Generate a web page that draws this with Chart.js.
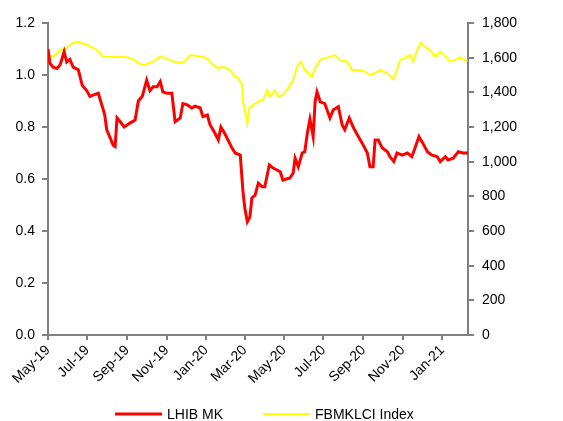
<!DOCTYPE html>
<html>
<head>
<meta charset="utf-8">
<script src="https://cdn.jsdelivr.net/npm/chart.js@4.4.0/dist/chart.umd.min.js"></script>
<style>
  html, body { margin: 0; padding: 0; background: #fff; }
  #wrap { width: 563px; height: 421px; }
</style>
</head>
<body>
<div id="wrap"><canvas id="myChart" width="563" height="421"></canvas></div>
<script>
// days counted from 1 May 2019
const monthDays = [0, 61, 123, 184, 245, 305, 366, 427, 489, 550, 611];
const monthLabels = ['May-19', 'Jul-19', 'Sep-19', 'Nov-19', 'Jan-20', 'Mar-20', 'May-20', 'Jul-20', 'Sep-20', 'Nov-20', 'Jan-21'];

// LHIB MK share price (RM)
const lhibDays = [0, 3, 8, 14, 19, 25, 29, 34, 39, 47, 53, 60, 65, 70, 78, 84, 88, 91, 96, 101, 104, 107, 112, 118, 127, 135, 140, 146, 153, 158, 163, 169, 174, 178, 184, 192, 197, 205, 209, 216, 223, 228, 236, 240, 247, 251, 259, 264, 268, 274, 279, 285, 290, 298, 302, 305, 309, 313, 316, 321, 326, 332, 336, 343, 349, 360, 364, 375, 380, 383, 388, 394, 398, 402, 406, 411, 414, 417, 422, 429, 437, 442, 450, 456, 460, 467, 473, 481, 487, 495, 499, 504, 507, 512, 518, 526, 530, 536, 541, 549, 557, 564, 569, 575, 581, 588, 595, 603, 608, 616, 620, 628, 636, 643, 651];
const lhibPrice = [1.10, 1.045, 1.03, 1.025, 1.04, 1.09, 1.05, 1.06, 1.03, 1.02, 0.96, 0.94, 0.917, 0.923, 0.93, 0.88, 0.846, 0.79, 0.76, 0.73, 0.725, 0.835, 0.82, 0.80, 0.815, 0.827, 0.90, 0.917, 0.98, 0.94, 0.955, 0.955, 0.975, 0.935, 0.93, 0.93, 0.82, 0.835, 0.89, 0.885, 0.873, 0.88, 0.873, 0.84, 0.846, 0.81, 0.775, 0.75, 0.80, 0.775, 0.75, 0.72, 0.70, 0.692, 0.558, 0.488, 0.436, 0.455, 0.527, 0.538, 0.584, 0.57, 0.57, 0.654, 0.642, 0.628, 0.596, 0.604, 0.623, 0.68, 0.647, 0.70, 0.705, 0.777, 0.83, 0.763, 0.897, 0.935, 0.897, 0.89, 0.835, 0.865, 0.878, 0.808, 0.79, 0.835, 0.80, 0.763, 0.738, 0.70, 0.647, 0.647, 0.75, 0.75, 0.72, 0.705, 0.686, 0.667, 0.70, 0.692, 0.70, 0.686, 0.72, 0.763, 0.738, 0.705, 0.692, 0.686, 0.667, 0.686, 0.673, 0.68, 0.705, 0.70, 0.70];

// FBMKLCI index level
const klciDays = [0, 8, 14, 19, 26, 31, 39, 47, 57, 65, 76, 85, 96, 107, 122, 132, 143, 150, 163, 174, 184, 194, 205, 212, 220, 231, 239, 248, 256, 264, 271, 282, 290, 295, 301, 302, 309, 312, 318, 326, 333, 340, 344, 352, 357, 364, 372, 380, 386, 392, 398, 409, 414, 422, 429, 437, 445, 453, 464, 471, 481, 488, 499, 507, 515, 526, 535, 541, 546, 553, 561, 566, 572, 578, 584, 592, 600, 608, 616, 623, 631, 639, 650];
const klciLevel = [1615, 1606, 1625, 1648, 1644, 1663, 1686, 1692, 1679, 1667, 1644, 1606, 1606, 1606, 1602, 1590, 1563, 1558, 1577, 1606, 1596, 1577, 1571, 1577, 1615, 1610, 1606, 1590, 1558, 1538, 1548, 1529, 1490, 1481, 1442, 1356, 1221, 1309, 1327, 1346, 1356, 1413, 1375, 1413, 1375, 1385, 1423, 1471, 1548, 1577, 1529, 1490, 1538, 1587, 1596, 1606, 1615, 1583, 1577, 1529, 1529, 1525, 1500, 1510, 1529, 1510, 1475, 1529, 1587, 1596, 1615, 1577, 1644, 1686, 1663, 1644, 1606, 1634, 1606, 1577, 1587, 1602, 1577];

const seriesNames = ['LHIB MK', 'FBMKLCI Index'];

function toPoints(xs, ys) {
    return xs.map((x, i) => ({ x: x, y: ys[i] }));
}

const axisGrey = '#808080';
const tickFont = { family: 'Liberation Sans, Arial, sans-serif', size: 14 };

// simple legend drawn under the axis
const bottomLegend = {
    id: 'bottomLegend',
    afterDraw(chart) {
        const ctx = chart.ctx;
        const items = [
            { x1: 115, x2: 162, tx: 167 },
            { x1: 263, x2: 310, tx: 315 }
        ];
        const y = 414;
        ctx.save();
        ctx.font = '14px Liberation Sans, Arial, sans-serif';
        ctx.textBaseline = 'middle';
        ctx.fillStyle = '#000';
        chart.data.datasets.forEach((ds, i) => {
            const it = items[i];
            ctx.strokeStyle = ds.borderColor;
            ctx.lineWidth = ds.borderWidth;
            ctx.beginPath();
            ctx.moveTo(it.x1, y);
            ctx.lineTo(it.x2, y);
            ctx.stroke();
            ctx.fillText(ds.label, it.tx, y + 1);
        });
        ctx.restore();
    }
};

const ctx = document.getElementById('myChart').getContext('2d');
new Chart(ctx, {
    type: 'line',
    data: {
        datasets: [{
            label: seriesNames[0],
            data: toPoints(lhibDays, lhibPrice),
            borderColor: '#ff0000',
            borderWidth: 3,
            pointRadius: 0,
            tension: 0,
            yAxisID: 'y'
        }, {
            label: seriesNames[1],
            data: toPoints(klciDays, klciLevel),
            borderColor: '#ffff00',
            borderWidth: 2,
            pointRadius: 0,
            tension: 0,
            yAxisID: 'y2'
        }]
    },
    options: {
        responsive: false,
        animation: false,
        layout: { padding: { top: 23, left: 0, right: 0, bottom: 0 } },
        plugins: {
            legend: { display: false },
            tooltip: { enabled: false }
        },
        scales: {
            x: {
                type: 'linear',
                min: 0,
                max: 651,
                afterBuildTicks: (axis) => {
                    axis.ticks = monthDays.map(v => ({ value: v }));
                },
                afterFit: (axis) => { axis.height = 86; },
                ticks: {
                    autoSkip: false,
                    minRotation: 45,
                    maxRotation: 45,
                    padding: 2,
                    color: '#000',
                    font: tickFont,
                    callback: (v) => {
                        const i = monthDays.indexOf(v);
                        return i >= 0 ? monthLabels[i] : '';
                    }
                },
                grid: { drawOnChartArea: false, drawTicks: true, tickLength: 5, color: axisGrey, lineWidth: 2 },
                border: { color: axisGrey, width: 2 }
            },
            y: {
                position: 'left',
                min: 0,
                max: 1.2,
                afterFit: (axis) => { axis.width = 48; },
                ticks: {
                    stepSize: 0.2,
                    padding: 7,
                    color: '#000',
                    font: tickFont,
                    callback: (v) => v.toFixed(1)
                },
                grid: { drawOnChartArea: false, drawTicks: true, tickLength: 6, color: axisGrey, lineWidth: 2 },
                border: { color: axisGrey, width: 2 }
            },
            y2: {
                position: 'right',
                min: 0,
                max: 1800,
                afterFit: (axis) => { axis.width = 95; },
                ticks: {
                    stepSize: 200,
                    padding: 8,
                    color: '#000',
                    font: tickFont,
                    callback: (v) => v.toLocaleString('en-US')
                },
                grid: { drawOnChartArea: false, drawTicks: true, tickLength: 6, color: axisGrey, lineWidth: 2 },
                border: { color: axisGrey, width: 2 }
            }
        }
    },
    plugins: [bottomLegend]
});
</script>
</body>
</html>
